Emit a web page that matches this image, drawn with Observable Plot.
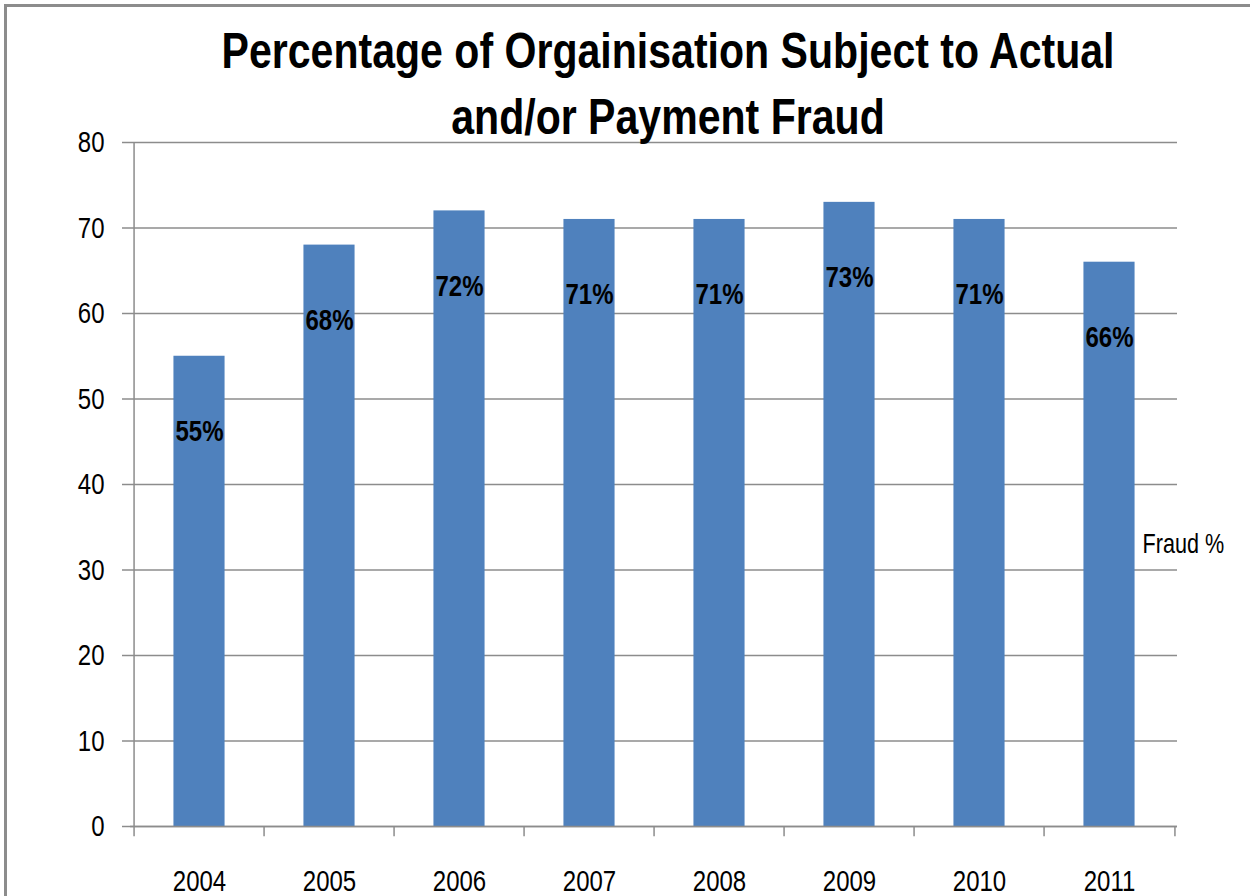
<!DOCTYPE html>
<html>
<head>
<meta charset="utf-8">
<script src="https://cdn.jsdelivr.net/npm/d3@7"></script>
<script src="https://cdn.jsdelivr.net/npm/@observablehq/plot@0.6"></script>
<style>
  html, body { margin: 0; padding: 0; background: #fff; }
  #wrap { position: relative; width: 1250px; height: 896px; overflow: hidden; }
  #frame { position: absolute; left: 4px; top: 4px; width: 1300px; height: 1000px;
           border-left: 3px solid #8c8c8c; border-top: 3px solid #8c8c8c; box-sizing: border-box; }
  #chart { position: absolute; left: 0; top: 0; }
</style>
</head>
<body>
<div id="wrap">
  <div id="frame"></div>
  <div id="chart"></div>
</div>
<script>
const titleLines = ["Percentage of Orgainisation Subject to Actual", "and/or Payment Fraud"];
const seriesName = "Fraud %";
const years = ["2004", "2005", "2006", "2007", "2008", "2009", "2010", "2011"];
const fraudPct = [55, 68, 72, 71, 71, 73, 71, 66];
const yTicks = [0, 10, 20, 30, 40, 50, 60, 70, 80];

const data = years.map((y, i) => ({year: y, value: fraudPct[i]}));

const W = 1250, H = 896, ML = 130, MR = 73, MT = 142, MB = 70;
const step = (W - ML - MR) / years.length;
const barW = 52;
const inset = (step - barW) / 2;
const grey = "#8c8c8c";

const chart = Plot.plot({
  width: W, height: H,
  marginLeft: ML, marginRight: MR, marginTop: MT, marginBottom: MB,
  style: {fontFamily: "'Liberation Sans', Arial, sans-serif", fontSize: "30px", color: "#000", background: "transparent", overflow: "visible"},
  x: {type: "band", domain: years, padding: 0},
  y: {domain: [0, 80]},
  marks: [
    Plot.gridY(yTicks, {stroke: grey, strokeOpacity: 1, strokeWidth: 1.5}),
    Plot.axisY(yTicks, {tickSize: 8, tickPadding: 18, stroke: grey, strokeWidth: 1.5, label: null, fontSize: 30, className: "sx"}),
    Plot.barY(data, {x: "year", y: "value", fill: "#4f81bd", insetLeft: inset, insetRight: inset}),
    Plot.ruleX([years[0]], {dx: -step / 2, y1: 0, y2: 80, stroke: grey, strokeWidth: 1.5}),
    Plot.ruleY([0], {stroke: grey, strokeWidth: 1.5}),
    Plot.ruleX(years, {x: d => d, dx: -step / 2, y1: 0, y2: -1.2, stroke: grey, strokeWidth: 1.5}),
    Plot.ruleX([years[years.length - 1]], {x: d => d, dx: step / 2, y1: 0, y2: -1.2, stroke: grey, strokeWidth: 1.5}),
    Plot.axisX({tickSize: 0, tickPadding: 43, label: null, fontSize: 30, className: "sx"}),
    Plot.text(data, {x: "year", y: "value", text: d => d.value + "%", dy: 75, fontWeight: "bold", fontSize: 30, className: "sx"}),
    Plot.text([titleLines[0]], {frameAnchor: "top", dx: 14, dy: -110, fontWeight: "bold", fontSize: 50, className: "tt"}),
    Plot.text([titleLines[1]], {frameAnchor: "top", dx: 14, dy: -44, fontWeight: "bold", fontSize: 50, className: "tt"}),
    Plot.text([seriesName], {frameAnchor: "top-right", textAnchor: "start", dx: -35, dy: 391, fontSize: 27, className: "sx"})
  ]
});
document.getElementById("chart").appendChild(chart);

// Condense glyphs horizontally to mimic the narrow original typeface
function condense(sel, k) {
  chart.querySelectorAll(sel + " text").forEach(t => {
    const bb = t.getBBox();
    const anchor = t.getAttribute("text-anchor") || (t.parentNode.getAttribute && t.parentNode.getAttribute("text-anchor")) || "middle";
    const cx = anchor === "start" ? bb.x : anchor === "end" ? bb.x + bb.width : bb.x + bb.width / 2;
    const prev = t.getAttribute("transform") || "";
    t.setAttribute("transform", `${prev} translate(${cx},0) scale(${k},1) translate(${-cx},0)`);
  });
}
condense(".sx", 0.8);
const t0 = chart.querySelector(".tt text");
const titleK = 893 / t0.getBBox().width;
condense(".tt", titleK);
</script>
</body>
</html>
